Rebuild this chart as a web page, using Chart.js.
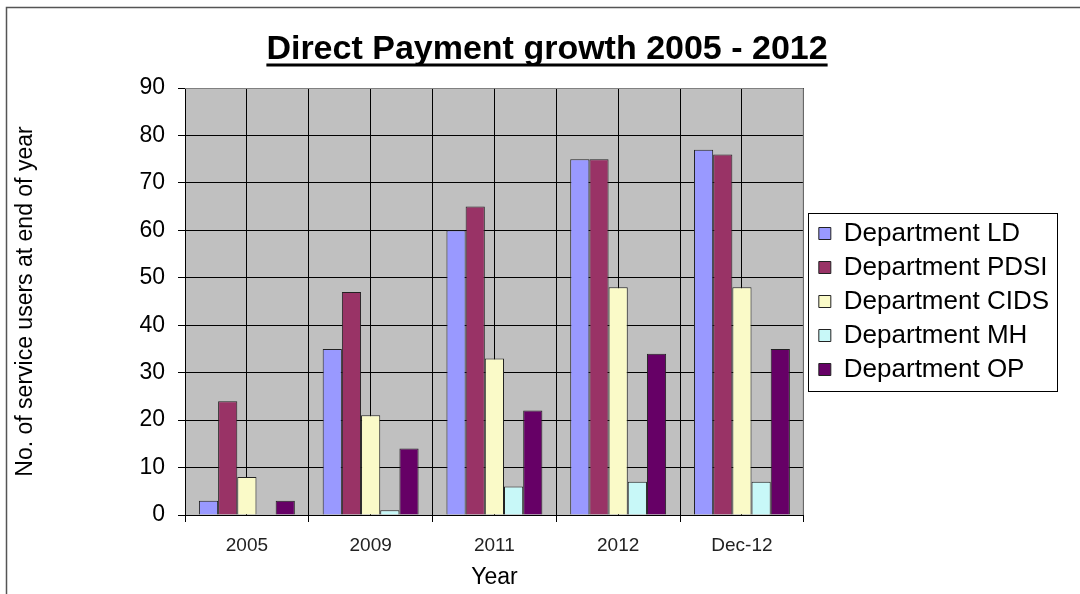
<!DOCTYPE html>
<html lang="en">
<head>
    <meta charset="UTF-8">
    <title>Direct Payment growth 2005 - 2012</title>
    <style>
* {
    margin: 0;
    padding: 0;
    box-sizing: border-box;
}

body {
    background: #fff;
    width: 1080px;
    height: 594px;
    overflow: hidden;
}

canvas {
    display: block;
}
    </style>
</head>
<body>
    <canvas id="chart" width="1080" height="594"></canvas>

    <script src="https://cdn.jsdelivr.net/npm/chart.js@4/dist/chart.umd.min.js"></script>
    <script>
// Data
const years = ['2005', '2009', '2011', '2012', 'Dec-12'];
const deptLD = [3, 35, 60, 75, 77];
const deptPDSI = [24, 47, 65, 75, 76];
const deptCIDS = [8, 21, 33, 48, 48];
const deptMH = [0, 1, 6, 7, 7];
const deptOP = [3, 14, 22, 34, 35];

const FONT = 'Arial, "Liberation Sans", sans-serif';
const LEGEND_PAD = 8;
const LEGEND_SHIFT = 7;

function dataset(label, data, color) {
    return {
        label: label,
        data: data,
        backgroundColor: color,
        borderColor: '#222',
        borderWidth: 1,
        categoryPercentage: 0.775,
        barPercentage: 1.0
    };
}

// grey plot background, frame and underlined heading
const decorations = {
    id: 'decorations',
    afterLayout(chart) {
        // small gap between plot and legend, as in the original
        chart.legend.left += LEGEND_SHIFT;
        chart.legend.right += LEGEND_SHIFT;
    },
    beforeDraw(chart) {
        const { ctx, chartArea: a } = chart;
        ctx.save();
        ctx.fillStyle = '#c0c0c0';
        ctx.fillRect(a.left, a.top, a.right - a.left, a.bottom - a.top);
        ctx.restore();
    },
    beforeDatasetsDraw(chart) {
        const { ctx, chartArea: a } = chart;
        ctx.save();
        ctx.strokeStyle = '#808080';
        ctx.lineWidth = 1;
        ctx.beginPath();
        ctx.moveTo(a.left, a.top + 0.5);
        ctx.lineTo(a.right - 0.5, a.top + 0.5);
        ctx.lineTo(a.right - 0.5, a.bottom);
        ctx.stroke();
        ctx.restore();
    },
    afterDraw(chart) {
        const ctx = chart.ctx;
        ctx.save();
        // outer frame
        ctx.strokeStyle = '#555';
        ctx.lineWidth = 1.5;
        ctx.beginPath();
        ctx.moveTo(6.5, 594);
        ctx.lineTo(6.5, 7.5);
        ctx.lineTo(1080, 7.5);
        ctx.stroke();

        // heading
        const text = 'Direct Payment growth 2005 - 2012';
        ctx.font = 'bold 34px ' + FONT;
        ctx.fillStyle = '#000';
        ctx.textAlign = 'center';
        ctx.textBaseline = 'alphabetic';
        ctx.fillText(text, 547, 59);
        const w = ctx.measureText(text).width;
        ctx.fillRect(547 - w / 2, 63.5, w, 3);

        // legend frame
        const lg = chart.legend;
        const boxes = lg.legendHitBoxes;
        if (boxes && boxes.length) {
            let y0 = Infinity, y1 = -Infinity, wMax = 0;
            boxes.forEach(b => {
                y0 = Math.min(y0, b.top);
                y1 = Math.max(y1, b.top + b.height);
                wMax = Math.max(wMax, b.width);
            });
            const x0 = lg.left + LEGEND_PAD;
            ctx.strokeStyle = '#000';
            ctx.lineWidth = 1;
            ctx.strokeRect(Math.round(x0 - 11) + 0.5, Math.round(y0 - 8) + 0.5,
                Math.round(wMax + 19), Math.round(y1 - y0 + 16));
        }
        ctx.restore();
    }
};

new Chart(document.getElementById('chart'), {
    type: 'bar',
    data: {
        labels: years,
        datasets: [
            dataset('Department LD', deptLD, '#9999ff'),
            dataset('Department PDSI', deptPDSI, '#993366'),
            dataset('Department CIDS', deptCIDS, '#fafac8'),
            dataset('Department MH', deptMH, '#c8f8f8'),
            dataset('Department OP', deptOP, '#660066')
        ]
    },
    options: {
        responsive: false,
        devicePixelRatio: 1,
        animation: false,
        layout: {
            padding: { left: 8, top: 88, right: 28, bottom: 0 }
        },
        plugins: {
            title: { display: false },
            tooltip: { enabled: false },
            legend: {
                position: 'right',
                fullSize: false,
                labels: {
                    font: { family: FONT, size: 26 },
                    color: '#000',
                    boxWidth: 12,
                    boxHeight: 12,
                    padding: LEGEND_PAD
                }
            }
        },
        scales: {
            x: {
                type: 'category',
                offset: true,
                grid: {
                    offset: true,
                    drawOnChartArea: false,
                    drawTicks: true,
                    tickLength: 7,
                    color: '#000'
                },
                border: { display: true, color: '#000' },
                ticks: {
                    font: { family: FONT, size: 19 },
                    color: '#222',
                    padding: 12
                },
                title: {
                    display: true,
                    text: 'Year',
                    font: { family: FONT, size: 23 },
                    color: '#000',
                    padding: { top: 4, bottom: 3 }
                },
                afterFit(scale) { scale.height = 79; }
            },
            // half-category grid lines, no labels
            xg: {
                type: 'linear',
                position: 'top',
                offset: false,
                min: 0,
                max: 10,
                ticks: { display: false, stepSize: 1 },
                grid: { color: '#000', drawTicks: false, offset: false },
                border: { display: false },
                afterFit(scale) { scale.height = 0; }
            },
            y: {
                min: 0,
                max: 90,
                ticks: {
                    stepSize: 10,
                    font: { family: FONT, size: 23 },
                    color: '#000',
                    padding: 13
                },
                grid: { color: '#000', tickLength: 7 },
                border: { display: true, color: '#000' },
                title: {
                    display: true,
                    text: 'No. of service users at end of year',
                    font: { family: FONT, size: 23 },
                    color: '#000',
                    padding: { top: 4, bottom: 4 }
                },
                afterFit(scale) { scale.width = 177; }
            }
        }
    },
    plugins: [decorations]
});
    </script>
</body>
</html>
